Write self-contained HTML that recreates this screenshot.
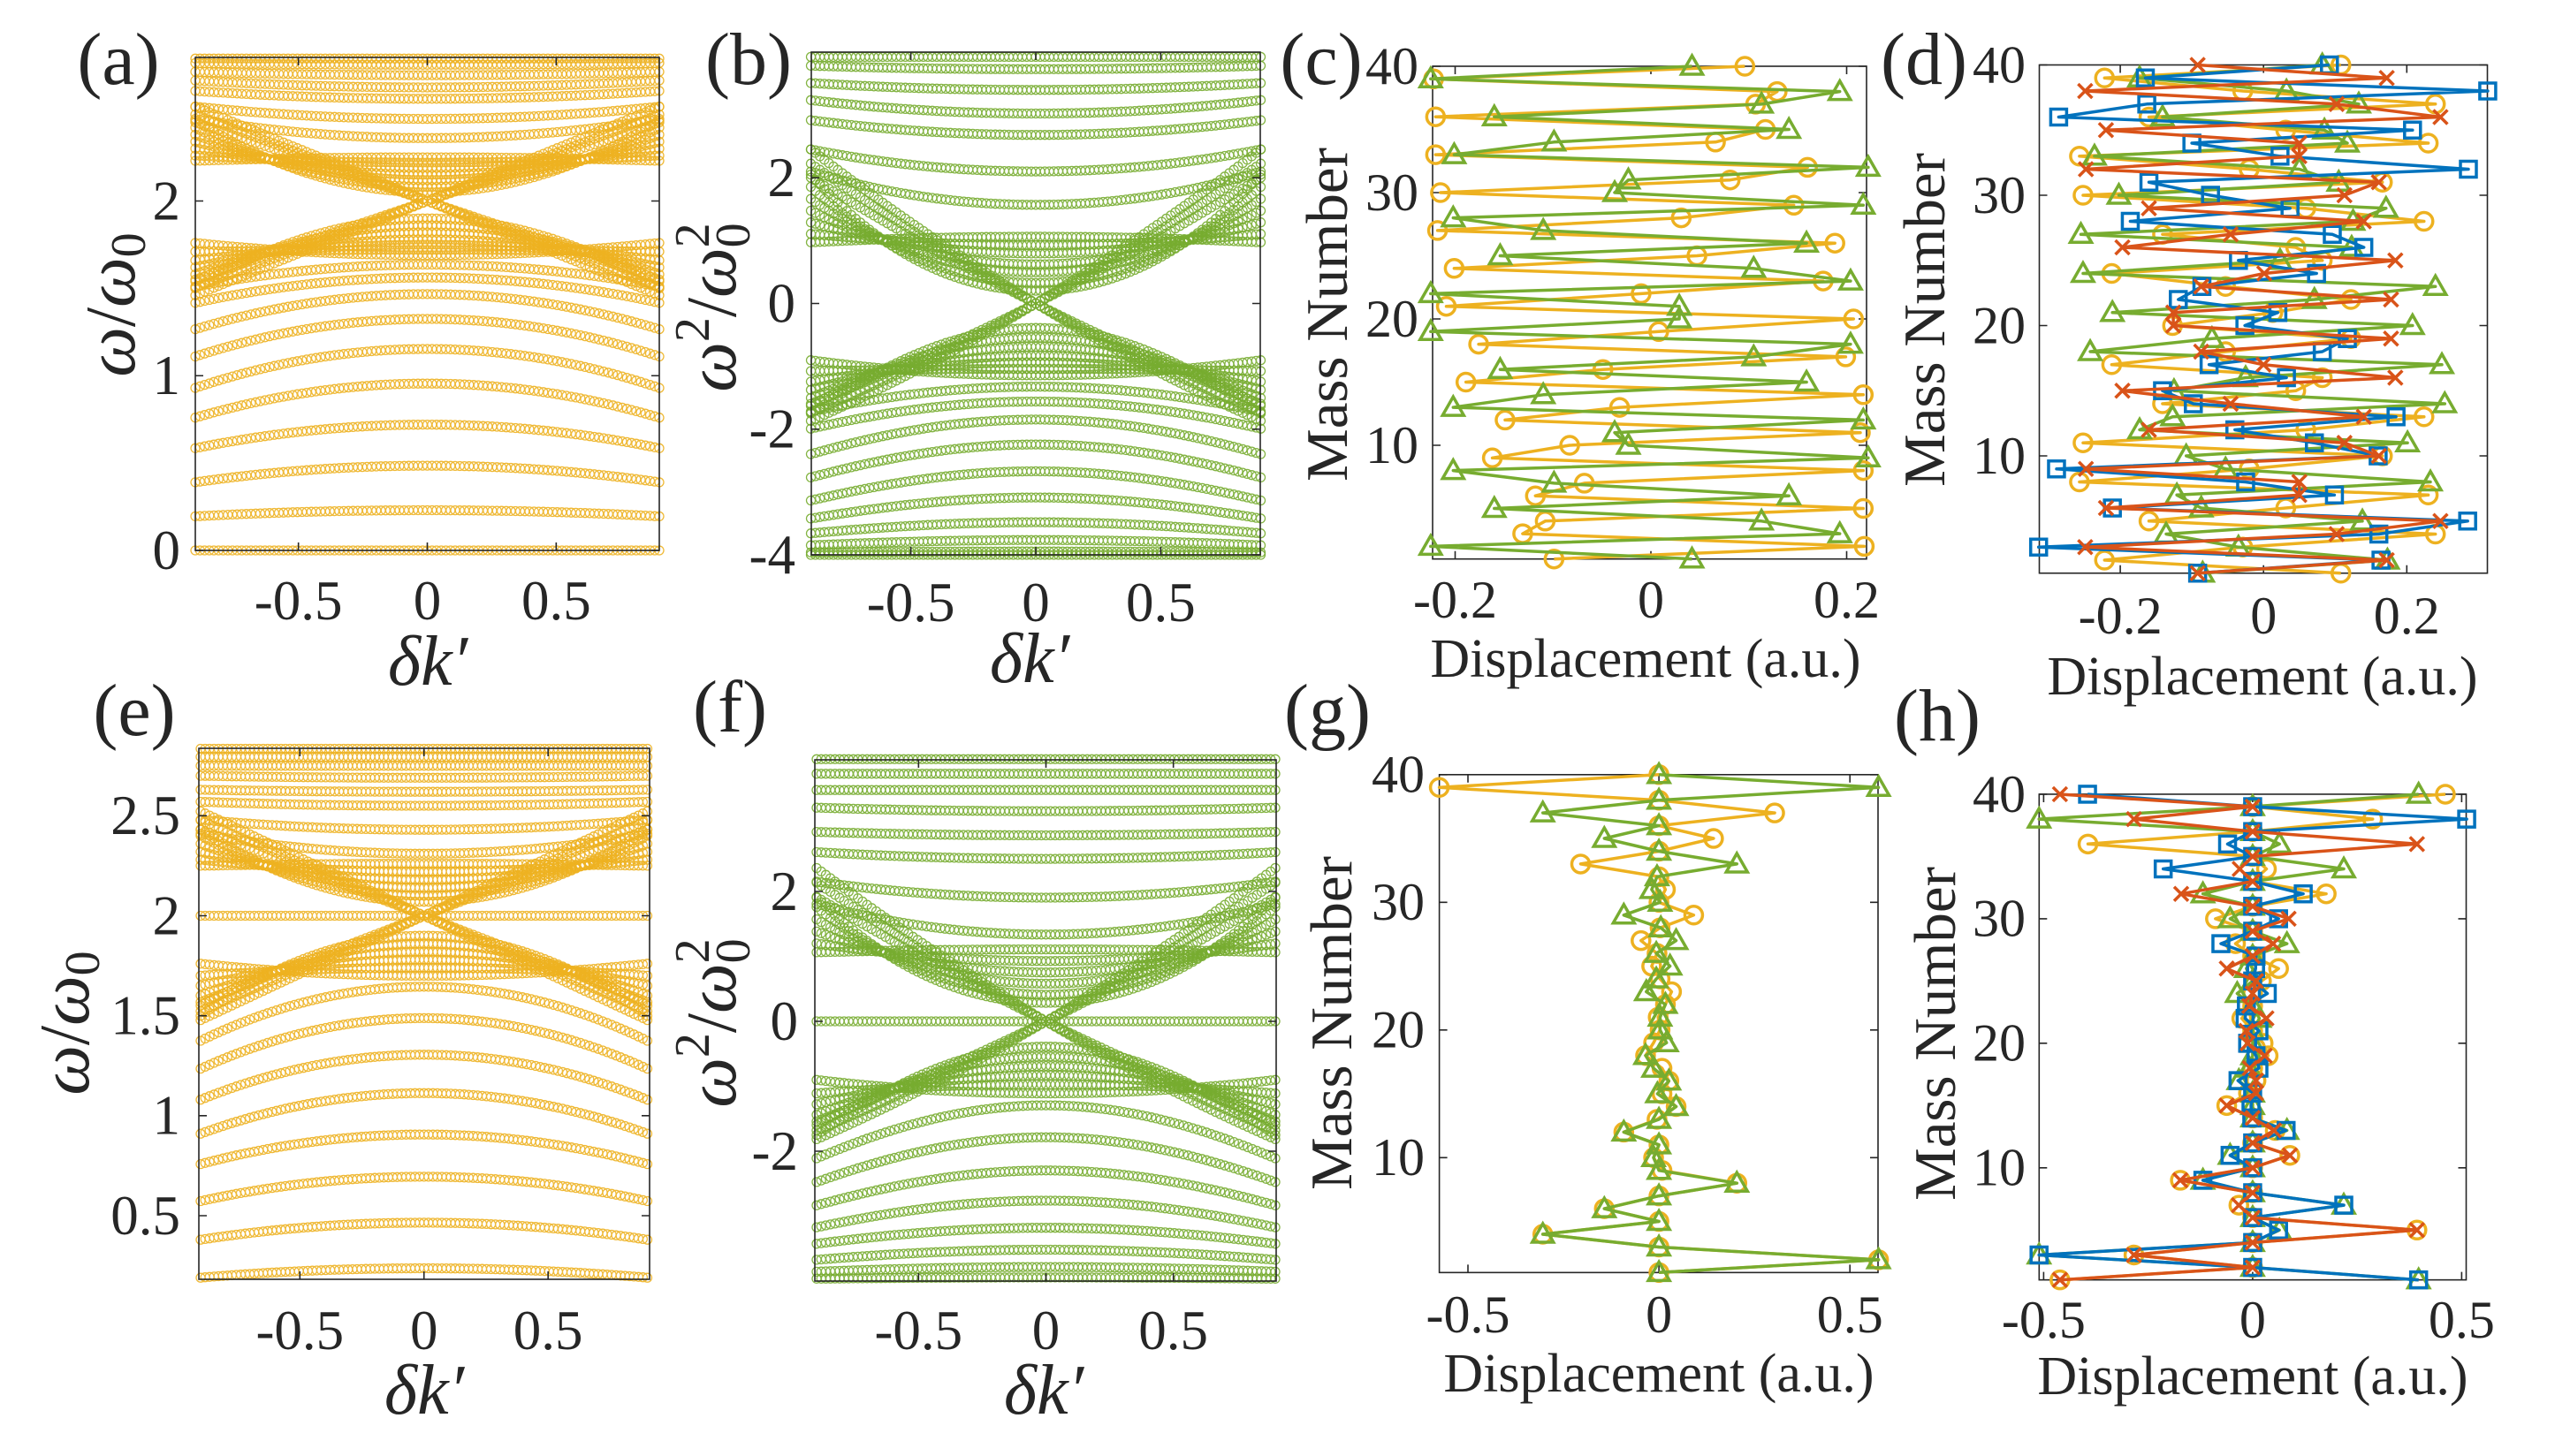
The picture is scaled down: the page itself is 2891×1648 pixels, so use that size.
<!DOCTYPE html>
<html><head><meta charset="utf-8"><style>
html,body{margin:0;padding:0;background:#fff}
svg{display:block}
text{font-family:"Liberation Serif","DejaVu Serif",serif;fill:#262626}
</style></head><body>
<svg id="fig" xmlns="http://www.w3.org/2000/svg" width="2891" height="1648" viewBox="0 0 2891 1648" font-family="Liberation Serif, DejaVu Serif, serif">
<rect width="2891" height="1648" fill="#fff"/>
<g font-size="84">
<text x="134" y="95" text-anchor="middle">(a)</text>
<text x="847" y="95" text-anchor="middle">(b)</text>
<text x="1495" y="95" text-anchor="middle">(c)</text>
<text x="2177" y="95" text-anchor="middle">(d)</text>
<text x="152" y="832" text-anchor="middle">(e)</text>
<text x="826" y="828" text-anchor="middle">(f)</text>
<text x="1502" y="832" text-anchor="middle">(g)</text>
<text x="2192" y="838" text-anchor="middle">(h)</text>
</g>
<g>
<text x="484" y="775" font-size="80" font-style="italic" text-anchor="middle">δk′</text>
<text x="1165" y="772" font-size="80" font-style="italic" text-anchor="middle">δk′</text>
<text x="480" y="1600" font-size="80" font-style="italic" text-anchor="middle">δk′</text>
<text x="1181" y="1600" font-size="80" font-style="italic" text-anchor="middle">δk′</text>
<text transform="translate(152,345) rotate(-90)" font-size="80" text-anchor="middle"><tspan font-style="italic">ω</tspan>/<tspan font-style="italic">ω</tspan><tspan font-size="56" dy="12">0</tspan></text>
<text transform="translate(100,1158) rotate(-90)" font-size="80" text-anchor="middle"><tspan font-style="italic">ω</tspan>/<tspan font-style="italic">ω</tspan><tspan font-size="56" dy="12">0</tspan></text>
<text transform="translate(832,348) rotate(-90)" font-size="80" text-anchor="middle"><tspan font-style="italic">ω</tspan><tspan font-size="56" dy="-30">2</tspan><tspan dy="30">/</tspan><tspan font-style="italic">ω</tspan><tspan font-size="56" dy="-30">2</tspan><tspan font-size="56" dx="-28" dy="46">0</tspan></text>
<text transform="translate(832,1158) rotate(-90)" font-size="80" text-anchor="middle"><tspan font-style="italic">ω</tspan><tspan font-size="56" dy="-30">2</tspan><tspan dy="30">/</tspan><tspan font-style="italic">ω</tspan><tspan font-size="56" dy="-30">2</tspan><tspan font-size="56" dx="-28" dy="46">0</tspan></text>
<text transform="translate(1524,356) rotate(-90)" font-size="67" text-anchor="middle">Mass Number</text>
<text transform="translate(2200,362) rotate(-90)" font-size="67" text-anchor="middle">Mass Number</text>
<text transform="translate(1529,1158) rotate(-90)" font-size="67" text-anchor="middle">Mass Number</text>
<text transform="translate(2212,1170) rotate(-90)" font-size="67" text-anchor="middle">Mass Number</text>
<text x="1862" y="766" font-size="62" text-anchor="middle">Displacement (a.u.)</text>
<text x="2560" y="786" font-size="62" text-anchor="middle">Displacement (a.u.)</text>
<text x="1877" y="1575" font-size="62" text-anchor="middle">Displacement (a.u.)</text>
<text x="2549" y="1578" font-size="62" text-anchor="middle">Displacement (a.u.)</text>
</g>
<g id="plots"></g>
</svg>
<script>
// ---- band data (dimensionless frequency ω/ω0): value at δk'=0 and at |δk'|=0.9
const kTicks = [-0.5, 0, 0.5];
const bandCenterA = [0, 0.23, 0.485, 0.72, 0.955, 1.153, 1.325, 1.467, 1.562, 1.636,
  1.69, 1.72, 1.75, 1.78, 1.82, 1.86, 1.90,
  2.05, 2.08, 2.12, 2.15, 2.19, 2.22, 2.25,
  2.36, 2.47, 2.585, 2.65, 2.72, 2.78, 2.815];
const bandEdgeA = [0, 0.195, 0.39, 0.585, 0.76, 0.93, 1.11, 1.266, 1.417, 1.51,
  1.76, 1.71, 1.66, 1.62, 1.58, 1.54, 1.50,
  2.46, 2.42, 2.38, 2.34, 2.30, 2.26, 2.23,
  2.47, 2.54, 2.63, 2.69, 2.74, 2.79, 2.815];
const crossCenterA = [2.0, 2.0, 2.0];
const crossSlopeA = [0.5, 0.55, 0.6];
const bandCenterE = [0.237, 0.465, 0.695, 0.906, 1.113, 1.305, 1.488, 1.645,
  1.70, 1.74, 1.78, 1.82, 1.86, 1.90,
  2.0,
  2.07, 2.10, 2.14, 2.18, 2.22, 2.26,
  2.31, 2.43, 2.55, 2.62, 2.69, 2.75, 2.795, 2.835];
const bandEdgeE = [0.19, 0.38, 0.573, 0.758, 0.91, 1.08, 1.235, 1.375,
  1.76, 1.70, 1.65, 1.60, 1.55, 1.50,
  2.0,
  2.43, 2.40, 2.36, 2.32, 2.28, 2.25,
  2.41, 2.48, 2.57, 2.63, 2.70, 2.75, 2.795, 2.835];
const crossCenterE = [2.0, 2.0, 2.0];
const crossSlopeE = [0.48, 0.53, 0.58];
const yTicksA = [0, 1, 2];
const yTicksB = [-4, -2, 0, 2];
const yTicksE = [0.5, 1, 1.5, 2, 2.5];
const yTicksF = [-2, 0, 2];

// ---- displacement profiles, listed from mass 40 down to mass 1
const massTicks = [10, 20, 30, 40];
const dispTicksCD = [-0.2, 0, 0.2];
const dispTicksGH = [-0.5, 0, 0.5];
const dispC_circle = [0.096,-0.222,0.129,0.107,-0.220,0.117,0.066,-0.220,0.160,0.081,-0.215,0.146,0.031,-0.218,0.188,0.047,-0.201,0.176,-0.010,-0.209,0.207,0.008,-0.176,0.199,-0.049,-0.189,0.217,-0.032,-0.149,0.214,-0.083,-0.162,0.217,-0.068,-0.118,0.217,-0.108,-0.131,0.218,-0.099];
const dispC_triangle = [0.042,-0.225,0.193,0.113,-0.160,0.141,-0.099,-0.201,0.222,-0.023,-0.037,0.217,-0.202,-0.110,0.159,-0.154,0.105,0.204,-0.225,0.029,0.029,-0.225,0.204,0.105,-0.154,0.159,-0.110,-0.202,0.217,-0.037,-0.023,0.222,-0.202,-0.099,0.141,-0.160,0.113,0.193,-0.225,0.042];
const dispD_circle = [0.108,-0.222,-0.029,0.240,-0.160,0.031,0.230,-0.257,-0.020,0.166,-0.252,0.059,0.224,-0.141,0.045,0.082,-0.212,-0.053,0.122,0.013,-0.127,0.122,-0.053,-0.212,0.082,0.045,-0.141,0.224,0.059,-0.252,0.166,-0.020,-0.257,0.230,0.031,-0.160,0.240,-0.029,-0.222,0.108];
const dispD_triangle = [0.082,-0.173,0.032,0.133,-0.141,0.085,0.117,-0.236,0.050,0.105,-0.202,0.171,0.125,-0.255,0.123,0.023,-0.252,0.240,0.071,-0.211,0.208,-0.072,-0.242,0.249,-0.025,-0.125,0.253,-0.127,-0.173,0.201,-0.108,-0.053,0.233,-0.121,-0.087,0.138,-0.136,-0.035,0.173,-0.085];
const dispD_cross = [-0.092,0.172,-0.249,0.102,0.247,-0.220,0.050,0.050,-0.248,0.161,0.113,-0.160,0.140,-0.046,-0.197,0.184,0.001,-0.087,0.178,-0.126,-0.126,0.178,-0.087,0.000,0.184,-0.197,-0.046,0.140,-0.160,0.113,0.161,-0.248,0.050,0.050,-0.220,0.247,0.102,-0.249,0.172,-0.092];
const dispD_square = [0.092,-0.165,0.313,-0.163,-0.286,0.208,-0.100,0.023,0.286,-0.160,-0.074,0.037,-0.186,0.096,0.140,-0.035,0.074,-0.086,-0.119,0.020,-0.026,0.117,0.082,-0.076,0.032,-0.141,-0.098,0.185,-0.040,0.071,0.160,-0.289,-0.025,0.099,-0.211,0.285,0.161,-0.314,0.164,-0.092];
const dispG_circle = [0,-0.575,0,0.303,0,0.143,0,-0.205,0,0.017,0,0.091,0.003,-0.047,-0.005,-0.019,0.003,0.033,0.017,-0.002,0.003,-0.014,-0.035,0.008,0.026,0.008,0.045,-0.005,-0.092,0,-0.014,0.008,0.204,0,-0.143,0,-0.304,0,0.575,0];
const dispG_triangle = [0,0.575,0,-0.304,0,-0.143,0,0.204,-0.005,-0.019,0.003,-0.092,0.005,0.045,-0.007,0.029,-0.007,-0.033,0.017,0.003,0.003,0.020,-0.035,-0.014,0.026,-0.004,0.045,0,-0.092,0,-0.014,0,0.204,0,-0.143,0,-0.304,0,0.575,0];
const dispH_circle = [0.461,0,0.287,0,-0.394,0,0.033,0,0.176,0,-0.089,0,-0.041,0,0.062,0.021,0,0,-0.026,0,0.025,0.037,0,0.008,-0.010,-0.062,0,0.054,0,0.089,0,-0.173,0,-0.033,0,0.393,0,-0.284,0,-0.461];
const dispH_triangle = [0.397,0,-0.511,0,0.064,0,0.218,0,-0.119,0,-0.054,0,0.082,0,-0.015,0,-0.037,0,0.016,0,0,0,-0.008,-0.033,0,0,0,0.082,0,-0.054,0,-0.119,0,0.218,0,0.064,0,-0.511,0,0.397];
const dispH_cross = [-0.461,0,-0.284,0,0.393,0,-0.031,0,-0.171,0,0.086,0,0.049,0,-0.062,0.008,0,-0.008,0.033,-0.015,-0.012,0.029,-0.007,0.008,0.008,-0.062,0,0.051,0,0.089,0,-0.173,0,-0.033,0,0.393,0,-0.284,0,-0.461];
const dispH_square = [-0.395,0,0.512,0,-0.060,0,-0.214,0,0.121,0,0.062,0,-0.076,0.008,0.007,0,0.035,-0.015,-0.018,0.015,-0.012,0.008,0.015,-0.035,0,-0.004,-0.002,0.080,0,-0.054,0,-0.119,0,0.218,0,0.062,0,-0.511,0,0.397];

const NS = 'http://www.w3.org/2000/svg';
const COL = {y:'#EDB120', g:'#77AC30', r:'#D95319', b:'#0072BD'};
const FONT = 'Liberation Serif, DejaVu Serif, serif';
const root = document.getElementById('plots');
function el(tag, attrs, parent){
  const e = document.createElementNS(NS, tag);
  for (const k in attrs) e.setAttribute(k, attrs[k]);
  (parent || root).appendChild(e);
  return e;
}
function lin(d0, d1, r0, r1){ return v => r0 + (v - d0) * (r1 - r0) / (d1 - d0); }

function axes(id, box, sx, sy, xt, yt, xBase, yRight, fs){
  const g = el('g', {});
  
  
  const frame = el('rect', {x:box.l, y:box.t, width:box.r-box.l, height:box.b-box.t, fill:'none', stroke:'#262626', 'stroke-width':1.6}, g);
  
  
  const tl = 9;
  xt.forEach(v => {
    const x = sx(v);
    const t1 = el('path', {d:`M${x},${box.b}v${-tl}M${x},${box.t}v${tl}`, stroke:'#262626', 'stroke-width':1.6}, g);
    
    
    const tx = el('text', {x:x, y:xBase, 'font-size':fs, 'font-family':FONT, 'text-anchor':'middle'}, g);
    
    
    tx.textContent = String(v);
  });
  yt.forEach(v => {
    const y = sy(v);
    const t1 = el('path', {d:`M${box.l},${y}h${tl}M${box.r},${y}h${-tl}`, stroke:'#262626', 'stroke-width':1.6}, g);
    
    
    const tx = el('text', {x:yRight, y:y + fs*0.33, 'font-size':fs, 'font-family':FONT, 'text-anchor':'end'}, g);
    
    
    tx.textContent = String(v);
  });
  return g;
}

function bandPanel(id, box, sx, sy, centers, edges, cc, cs, map, color){
  const g = el('g', {});
  
  
  const N = 101, r = 5;
  function drawBand(fn, name){
    let d = '';
    for (let j = 0; j < N; j++){
      const k = -0.9 + 1.8 * j / (N - 1);
      const x = sx(k), y = sy(map(fn(k)));
      d += `M${(x-r).toFixed(1)},${y.toFixed(1)}a${r},${r} 0 1,0 ${2*r},0a${r},${r} 0 1,0 ${-2*r},0`;
    }
    const p = el('path', {d:d, fill:'none', stroke:color, 'stroke-width':1.3, 'stroke-opacity':0.9}, g);
    
    
  }
  centers.forEach((c, i) => {
    const e = edges[i];
    drawBand(k => c + (e - c) * (k/0.9) * (k/0.9), 'band-' + i);
  });
  cs.forEach((s, i) => {
    drawBand(k => cc[i] + s * k, 'crossing-band-up-' + i);
    drawBand(k => cc[i] - s * k, 'crossing-band-down-' + i);
  });
}

function marker(type, x, y, color, g){
  let m;
  if (type === 'circle') m = el('circle', {cx:x, cy:y, r:10, fill:'none', stroke:color, 'stroke-width':3.5}, g);
  else if (type === 'triangle') m = el('path', {d:`M${x},${y-12}L${x+12},${y+9}L${x-12},${y+9}Z`, fill:'none', stroke:color, 'stroke-width':3.5}, g);
  else if (type === 'square') m = el('rect', {x:x-9, y:y-9, width:18, height:18, fill:'none', stroke:color, 'stroke-width':3.5}, g);
  else m = el('path', {d:`M${x-8},${y-8}L${x+8},${y+8}M${x-8},${y+8}L${x+8},${y-8}`, stroke:color, 'stroke-width':3.5}, g);
  
  
}

function profile(id, sx, sy, series){
  const g = el('g', {});
  
  
  series.forEach(s => {
    const sg = el('g', {}, g);
    
    
    const pts = s.vals.map((v, i) => [sx(v), sy(40 - i)]);
    const pl = el('polyline', {points:pts.map(p => p[0].toFixed(1)+','+p[1].toFixed(1)).join(' '), fill:'none', stroke:s.color, 'stroke-width':3.5, 'stroke-linejoin':'round'}, sg);
    
    
    pts.forEach(p => marker(s.type, p[0], p[1], s.color, sg));
  });
}

const sq2 = w => w*w - 4;
const ident = w => w;

// (a)
{ const box = {l:221, r:746, t:65, b:623};
  const sx = lin(-0.9, 0.9, 221, 746), sy = lin(0, 2, 623, 227.5);
  bandPanel('a', box, sx, sy, bandCenterA, bandEdgeA, crossCenterA, crossSlopeA, ident, COL.y);
  axes('a', box, sx, sy, kTicks, yTicksA, 701, 204, 63); }
// (b)
{ const box = {l:918, r:1426, t:59, b:628};
  const sx = lin(-0.9, 0.9, 917.5, 1426.5), sy = lin(-4, 4, 628, 59);
  bandPanel('b', box, sx, sy, bandCenterA, bandEdgeA, crossCenterA, crossSlopeA, sq2, COL.g);
  axes('b', box, sx, sy, kTicks, yTicksB, 703, 900, 63); }
// (e)
{ const box = {l:225, r:735, t:847, b:1448};
  const sx = lin(-0.9, 0.9, 227, 732.5), sy = lin(0.5, 2, 1376, 1036.5);
  bandPanel('e', box, sx, sy, bandCenterE, bandEdgeE, crossCenterE, crossSlopeE, ident, COL.y);
  axes('e', box, sx, sy, kTicks, yTicksE, 1527, 204, 63); }
// (f)
{ const box = {l:922, r:1444, t:860, b:1450};
  const sx = lin(-0.9, 0.9, 924, 1443), sy = lin(-2, 2, 1303, 1009);
  bandPanel('f', box, sx, sy, bandCenterE, bandEdgeE, crossCenterE, crossSlopeE, sq2, COL.g);
  axes('f', box, sx, sy, kTicks, yTicksF, 1527, 903, 63); }
// (c)
{ const sx = lin(0, 0.2, 1868, 2089.5), sy = lin(10, 30, 504, 218);
  const box = {l:1621, r:2112, t:sy(40), b:sy(1)};
  axes('c', box, sx, sy, dispTicksCD, massTicks, 699, 1605, 60);
  profile('c', sx, sy, [{type:'circle', vals:dispC_circle, color:COL.y},{type:'triangle', vals:dispC_triangle, color:COL.g}]); }
// (d)
{ const sx = lin(0, 0.2, 2561.2, 2723.3), sy = lin(10, 30, 516, 221);
  const box = {l:2307.5, r:2814.5, t:sy(40), b:sy(1)};
  axes('d', box, sx, sy, dispTicksCD, massTicks, 717, 2292, 60);
  profile('d', sx, sy, [{type:'circle', vals:dispD_circle, color:COL.y},{type:'triangle', vals:dispD_triangle, color:COL.g},{type:'square', vals:dispD_square, color:COL.b},{type:'cross', vals:dispD_cross, color:COL.r}]); }
// (g)
{ const sx = lin(0, 0.5, 1877.1, 2093.2), sy = lin(10, 30, 1310.3, 1021.3);
  const box = {l:1628.6, r:2125, t:sy(40), b:sy(1)};
  axes('g', box, sx, sy, dispTicksGH, massTicks, 1508, 1612, 60);
  profile('g', sx, sy, [{type:'circle', vals:dispG_circle, color:COL.y},{type:'triangle', vals:dispG_triangle, color:COL.g}]); }
// (h)
{ const sx = lin(0, 0.5, 2548.9, 2785.4), sy = lin(10, 30, 1321.8, 1039.9);
  const box = {l:2307.3, r:2790.5, t:sy(40), b:sy(1)};
  axes('h', box, sx, sy, dispTicksGH, massTicks, 1514, 2292, 60);
  profile('h', sx, sy, [{type:'circle', vals:dispH_circle, color:COL.y},{type:'triangle', vals:dispH_triangle, color:COL.g},{type:'square', vals:dispH_square, color:COL.b},{type:'cross', vals:dispH_cross, color:COL.r}]); }
</script>
</body></html>
